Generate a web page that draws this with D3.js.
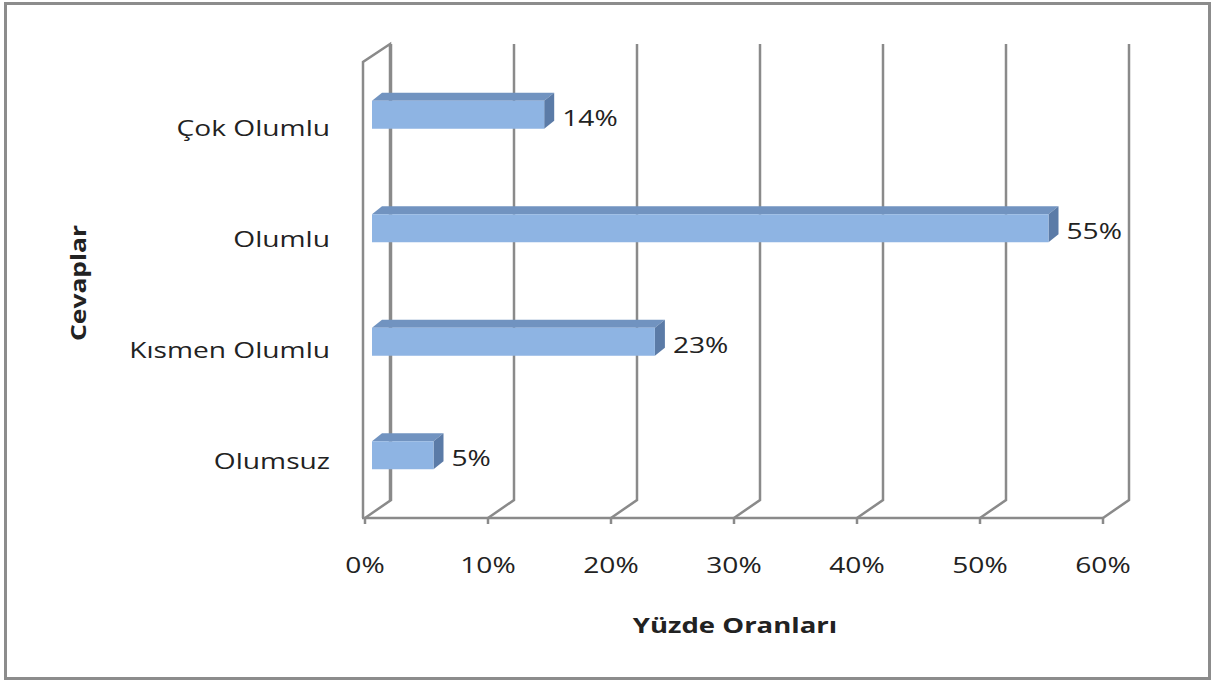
<!DOCTYPE html>
<html>
<head>
<meta charset="utf-8">
<script src="https://cdn.jsdelivr.net/npm/d3@7"></script>
<style>
  body { margin: 0; background: #fff; }
  svg text { font-family: "Open Sans", sans-serif; fill: #222; }
</style>
</head>
<body>
<svg width="1212" height="682"></svg>
<script>
// data
const categories = ["Çok Olumlu", "Olumlu", "Kısmen Olumlu", "Olumsuz"];
const values = [14, 55, 23, 5];
const ticks = [0, 10, 20, 30, 40, 50, 60];

const svg = d3.select("svg");
const stretch = 1.28; // the original text is wide

// frame
svg.append("rect")
  .attr("x", 5.5).attr("y", 3.5).attr("width", 1204).attr("height", 675)
  .attr("fill", "none").attr("stroke", "#8c8c8c").attr("stroke-width", 3);

// front plane + depth offset
const x = d3.scaleLinear().domain([0, 60]).range([365, 1103]);
const y = d3.scaleBand().domain(categories).range([70, 514]);      // labels
const yBar = d3.scaleBand().domain(categories).range([58, 512]);   // bar plane
const depth = { dx: 26, dy: -18 };
const yBottom = 518, yTop = 62;

const grid = svg.append("g")
  .attr("stroke", "#8a8a8a").attr("stroke-width", 2.5).attr("fill", "none");

// left wall
grid.append("path")
  .attr("d", `M${x(0) - 2},${yBottom} L${x(0) - 2},${yTop} L${x(0) + depth.dx - 1},${yTop + depth.dy} L${x(0) + depth.dx - 1},${yBottom + depth.dy}`);

// back wall grid lines + floor diagonals
ticks.forEach(t => {
  const fx = x(t);
  grid.append("path")
    .attr("d", `M${fx},${yBottom} L${fx + depth.dx},${yBottom + depth.dy} L${fx + depth.dx},${yTop + depth.dy}`);
});

// front x axis
grid.append("line")
  .attr("x1", x(0) - 3).attr("x2", x(60)).attr("y1", yBottom).attr("y2", yBottom);
ticks.forEach(t => {
  grid.append("line")
    .attr("x1", x(t)).attr("x2", x(t)).attr("y1", yBottom).attr("y2", yBottom + 6);
});

// tick labels
svg.append("g").selectAll("text")
  .data(ticks).enter().append("text")
  .attr("transform", d => `translate(${x(d)},573) scale(${stretch},1)`)
  .attr("text-anchor", "middle")
  .attr("font-size", 22)
  .text(d => d + "%");

// category labels
svg.append("g").selectAll("text")
  .data(categories).enter().append("text")
  .attr("transform", d => `translate(330,${y(d) + y.bandwidth() / 2 + 10}) scale(${stretch},1)`)
  .attr("text-anchor", "end")
  .attr("font-size", 22)
  .text(d => d);

// 3d bars
const ox = 7, tx = 10, ty = -8;
const barH = 28;
const bars = svg.append("g");
categories.forEach((c, i) => {
  const x0 = x(0) + ox, x1 = x(values[i]) + ox;
  const yc = yBar(c) + yBar.bandwidth() / 2;
  const y0 = yc - barH / 2, y1 = yc + barH / 2;
  // top face
  bars.append("path")
    .attr("d", `M${x0},${y0} L${x0 + tx},${y0 + ty} L${x1 + tx},${y0 + ty} L${x1},${y0} Z`)
    .attr("fill", "#7193c0");
  // side face
  bars.append("path")
    .attr("d", `M${x1},${y0} L${x1 + tx},${y0 + ty} L${x1 + tx},${y1 + ty} L${x1},${y1} Z`)
    .attr("fill", "#5b7ba7");
  // front face
  bars.append("rect")
    .attr("x", x0).attr("y", y0).attr("width", x1 - x0).attr("height", barH)
    .attr("fill", "#8eb4e3");
  // value label
  bars.append("text")
    .attr("transform", `translate(${x1 + tx + 8},${yc + 11}) scale(${stretch},1)`)
    .attr("font-size", 22)
    .text(values[i] + "%");
});

// axis titles
svg.append("text")
  .attr("transform", `translate(735,633) scale(1.25,1)`)
  .attr("text-anchor", "middle")
  .attr("font-size", 22).attr("font-weight", "bold")
  .text("Yüzde Oranları");

svg.append("text")
  .attr("transform", "translate(86,283) rotate(-90) scale(1.2,1)")
  .attr("text-anchor", "middle")
  .attr("font-size", 22).attr("font-weight", "bold")
  .text("Cevaplar");
</script>
</body>
</html>
